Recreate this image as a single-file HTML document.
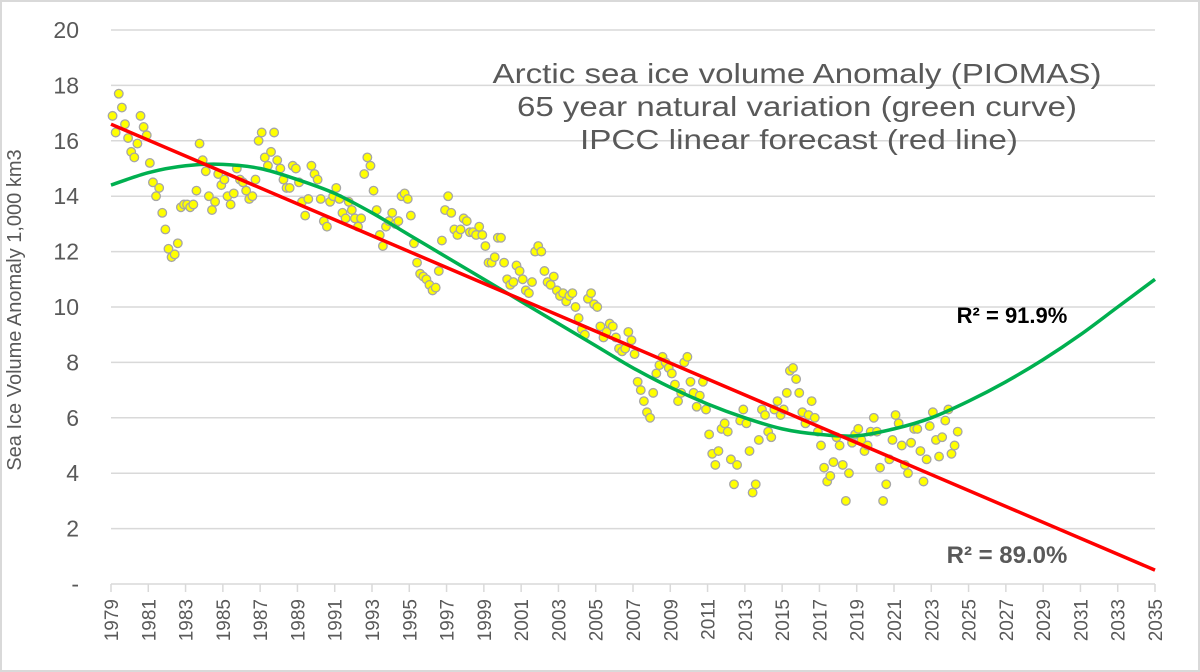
<!DOCTYPE html>
<html><head><meta charset="utf-8"><style>
html,body{margin:0;padding:0;background:#fff}
svg{display:block;font-family:"Liberation Sans",sans-serif}
</style></head><body>
<svg id="chart" width="1200" height="672" viewBox="0 0 1200 672">
<rect x="1" y="1" width="1198" height="670" fill="#fff" stroke="#d9d9d9" stroke-width="2"/>
<g id="grid"></g>
<g id="yticks"></g>
<g id="xaxis"></g>
<g id="pts"></g>
<g id="lines"></g>
<text x="21" y="310" transform="rotate(-90 21 310)" text-anchor="middle" font-size="20" fill="#595959">Sea Ice  Volume Anomaly 1,000 km3</text>
<g font-size="28" fill="#595959" text-anchor="middle">
<text x="797" y="83" textLength="609" lengthAdjust="spacingAndGlyphs">Arctic sea ice volume Anomaly (PIOMAS)</text>
<text x="797" y="116" textLength="560" lengthAdjust="spacingAndGlyphs">65 year natural variation (green curve)</text>
<text x="799" y="149" textLength="438" lengthAdjust="spacingAndGlyphs">IPCC linear forecast (red line)</text>
</g>
<text x="1012" y="323" text-anchor="middle" font-size="22" font-weight="bold" fill="#000">R² = 91.9%</text>
<text x="1007" y="563" text-anchor="middle" font-size="24" font-weight="bold" fill="#595959">R² = 89.0%</text>
</svg>
<script>
const yTickValues=[0,2,4,6,8,10,12,14,16,18,20];
const yTickLabels=["-","2","4","6","8","10","12","14","16","18","20"];
const xTickYears=[1979,1981,1983,1985,1987,1989,1991,1993,1995,1997,1999,2001,2003,2005,2007,2009,2011,2013,2015,2017,2019,2021,2023,2025,2027,2029,2031,2033,2035];
const startYear=1979;
const pointsPerYear=6;
const anomaly=[
16.9,16.3,17.7,17.2,16.6,16.1,
15.6,15.4,15.9,16.9,16.5,16.2,
15.2,14.5,14.0,14.3,13.4,12.8,
12.1,11.8,11.9,12.3,13.6,13.7,
13.7,13.6,13.7,14.2,15.9,15.3,
14.9,14.0,13.5,13.8,14.8,14.4,
14.6,14.0,13.7,14.1,15.0,14.6,
14.5,14.2,13.9,14.0,14.6,16.0,
16.3,15.4,15.1,15.6,16.3,15.3,
15.0,14.6,14.3,14.3,15.1,15.0,
14.5,13.8,13.3,13.9,15.1,14.8,
14.6,13.9,13.1,12.9,13.8,14.0,
14.3,13.9,13.4,13.2,13.8,13.5,
13.2,12.9,13.2,14.8,15.4,15.1,
14.2,13.5,12.6,12.2,12.9,13.1,
13.4,13.0,13.1,14.0,14.1,13.9,
13.3,12.3,11.6,11.2,11.1,11.0,
10.8,10.6,10.7,11.3,12.4,13.5,
14.0,13.4,12.8,12.6,12.8,13.2,
13.1,12.7,12.7,12.6,12.9,12.6,
12.2,11.6,11.6,11.8,12.5,12.5,
11.6,11.0,10.8,10.9,11.5,11.3,
11.0,10.6,10.5,10.9,12.0,12.2,
12.0,11.3,10.9,10.8,11.1,10.6,
10.4,10.5,10.2,10.4,10.5,10.0,
9.6,9.2,9.0,10.3,10.5,10.1,
10.0,9.3,8.9,9.1,9.4,9.3,
8.9,8.5,8.4,8.5,9.1,8.8,
8.3,7.3,7.0,6.6,6.2,6.0,
6.9,7.6,7.9,8.2,8.0,7.8,
7.6,7.2,6.6,6.9,8.0,8.2,
7.3,6.9,6.4,6.8,7.3,6.3,
5.4,4.7,4.3,4.8,5.6,5.8,
5.5,4.5,3.6,4.3,5.9,6.3,
5.8,4.8,3.3,3.6,5.2,6.3,
6.1,5.5,5.3,6.3,6.6,6.1,
6.3,6.9,7.7,7.8,7.4,6.9,
6.2,5.8,6.1,6.6,6.0,5.5,
5.0,4.2,3.7,3.9,4.4,5.3,
5.0,4.3,3.0,4.0,5.1,5.4,
5.6,5.2,4.8,5.0,5.5,6.0,
5.5,4.2,3.0,3.6,4.5,5.2,
6.1,5.8,5.0,4.3,4.0,5.1,
5.6,5.6,4.8,3.7,4.5,5.7,
6.2,5.2,4.6,5.3,5.9,6.3,
4.7,5.0,5.5
];
const greenYears=[1979,1981,1983,1985,1987,1989,1991,1993,1995,1997,1999,2001,2003,2005,2007,2009,2011,2013,2015,2017,2019,2021,2023,2025,2027,2029,2031,2033,2035];
const greenValues=[14.4,14.85,15.1,15.15,15.0,14.6,14.1,13.4,12.6,11.8,11.0,10.2,9.4,8.6,7.8,7.1,6.5,6.0,5.6,5.4,5.35,5.6,6.0,6.6,7.3,8.1,9.0,10.0,11.0];
const redYears=[1979,2035];
const redValues=[16.6,0.5];

const NS="http://www.w3.org/2000/svg";
const X0=111,X1=1155,Y0=584,Y20=30;
const xs=yr=>X0+(yr-1979)*(X1-X0)/56;
const ys=v=>Y0-(v/20)*(Y0-Y20);
function mk(tag,attrs,parent){const e=document.createElementNS(NS,tag);for(const k in attrs)e.setAttribute(k,attrs[k]);parent.appendChild(e);return e;}
const grid=document.getElementById('grid'),yt=document.getElementById('yticks'),xa=document.getElementById('xaxis'),pts=document.getElementById('pts'),lines=document.getElementById('lines');
yTickValues.forEach((v,i)=>{
  if(v>0){const l=mk('line',{x1:X0,x2:X1,y1:ys(v),y2:ys(v),stroke:'#d9d9d9','stroke-width':1.5},grid);
  
  }
  const t=mk('text',{x:79,y:ys(v)+8,'text-anchor':'end','font-size':23,fill:'#595959'},yt);
  t.textContent=yTickLabels[i];
  
  
});
const ax=mk('line',{x1:X0,x2:X1,y1:Y0,y2:Y0,stroke:'#d9d9d9','stroke-width':1.5},xa);


xTickYears.forEach(yr=>{
  const x=xs(yr);
  const tk=mk('line',{x1:x,x2:x,y1:Y0,y2:Y0+8,stroke:'#d9d9d9','stroke-width':1.5},xa);
  
  
  const t=mk('text',{x:0,y:0,'text-anchor':'end','font-size':19,fill:'#595959',transform:`translate(${x+7},${Y0+15}) rotate(-90)`},xa);
  t.textContent=yr;
  
  
});
anomaly.forEach((v,i)=>{
  const yr=startYear+(i+0.5)/pointsPerYear;
  const c=mk('circle',{cx:xs(yr),cy:ys(v),r:4.3,fill:'#ffff00',stroke:'#a6a6a6','stroke-width':1.3},pts);
  
  
});
const gp=greenYears.map((y,i)=>[xs(y),ys(greenValues[i])]);
let d=`M${gp[0][0]},${gp[0][1]}`;
for(let i=0;i<gp.length-1;i++){
  const p0=gp[Math.max(0,i-1)],p1=gp[i],p2=gp[i+1],p3=gp[Math.min(gp.length-1,i+2)];
  d+=` C${p1[0]+(p2[0]-p0[0])/6},${p1[1]+(p2[1]-p0[1])/6} ${p2[0]-(p3[0]-p1[0])/6},${p2[1]-(p3[1]-p1[1])/6} ${p2[0]},${p2[1]}`;
}
const g=mk('path',{d:d,fill:'none',stroke:'#00b050','stroke-width':3.5},lines);


const r=mk('line',{x1:xs(redYears[0]),y1:ys(redValues[0]),x2:xs(redYears[1]),y2:ys(redValues[1]),stroke:'#ff0000','stroke-width':3.5},lines);


</script>
</body></html>
